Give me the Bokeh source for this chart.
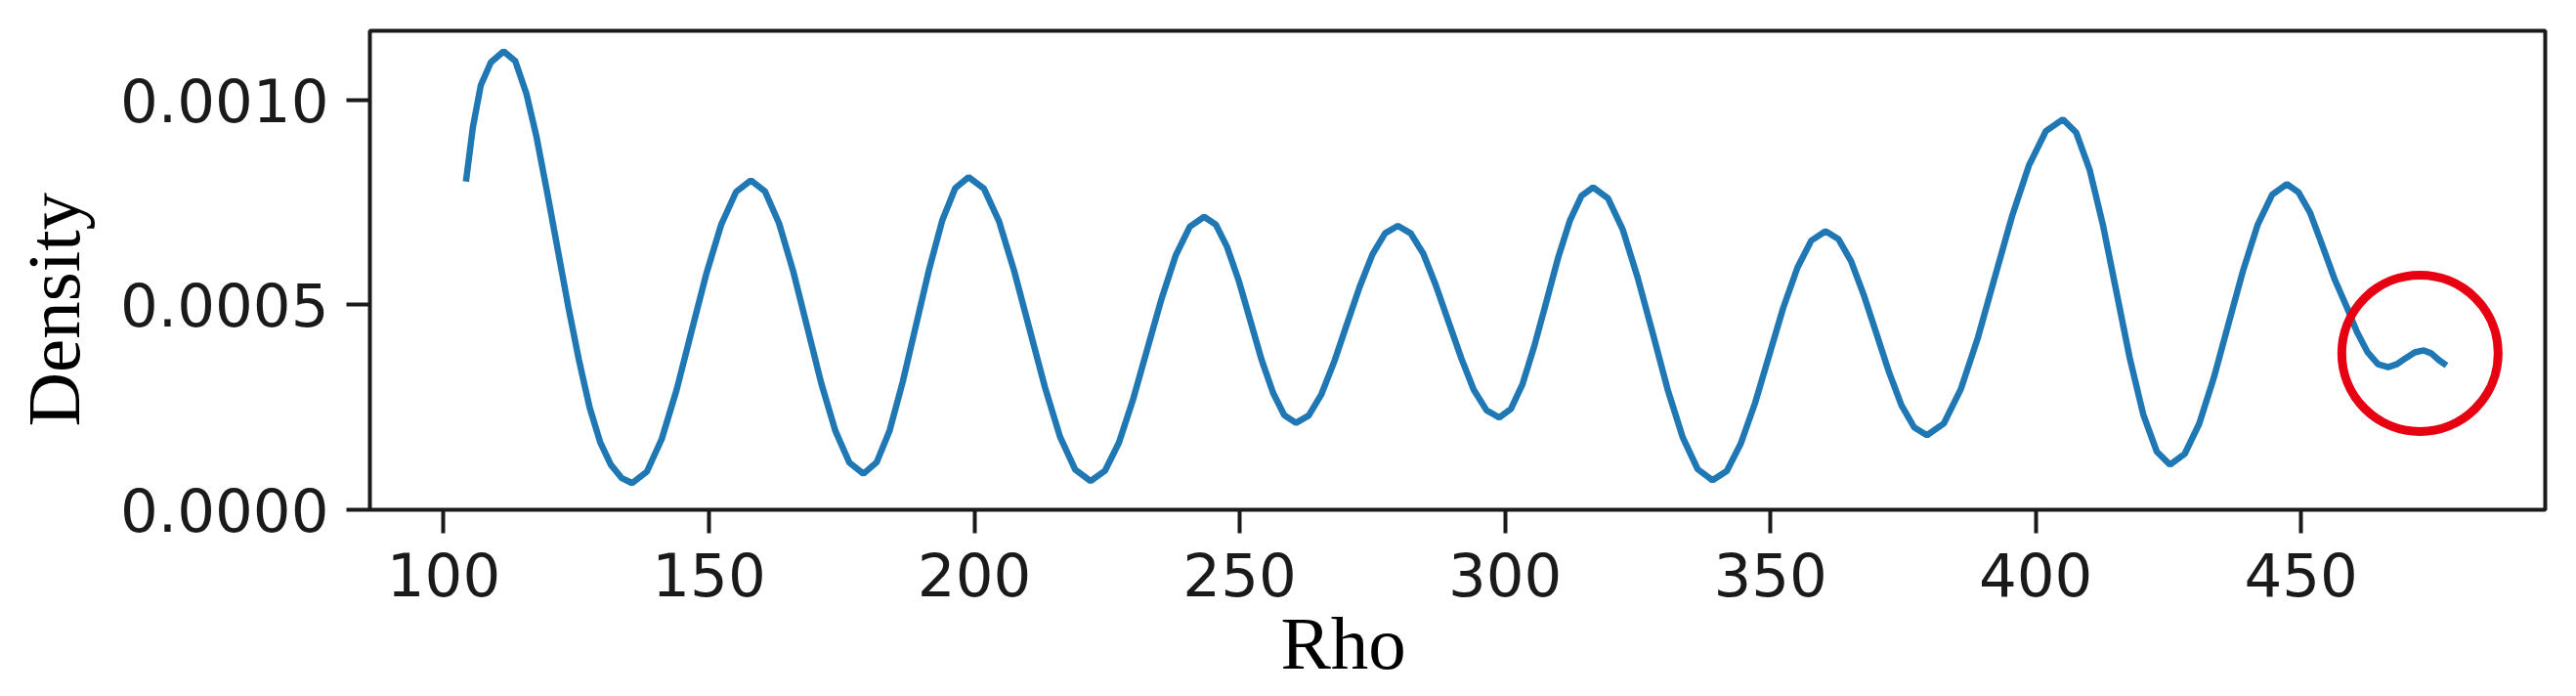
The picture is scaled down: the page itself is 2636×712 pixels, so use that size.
from bokeh.plotting import figure
from bokeh.layouts import row
from bokeh.models import Range1d, FixedTicker, NumeralTickFormatter, Title
from bokeh.embed import file_html
from bokeh.resources import INLINE

# ---- data (Rho vs KDE density, density in units of 1e-4) ----
rho = [
    104.2, 105.5, 107.0, 108.9, 111.3,
    113.5, 115.6, 117.5, 119.5, 121.5, 123.5, 125.5, 127.5, 129.5, 131.5, 133.5, 135.5,
    138.3, 141.1, 143.9, 146.7, 149.5, 152.3, 155.1, 157.9,
    160.55, 163.2, 165.85, 168.5, 171.15, 173.8, 176.45, 179.1,
    181.6, 184.05, 186.5, 189.0, 191.5, 193.95, 196.4, 198.9,
    201.8, 204.65, 207.5, 210.4, 213.3, 216.15, 219.0, 221.9,
    224.6, 227.25, 229.9, 232.6, 235.3, 237.95, 240.6, 243.3,
    245.5, 247.6, 249.8, 251.95, 254.1, 256.3, 258.4, 260.6,
    263.0, 265.4, 267.8, 270.2, 272.6, 275.0, 277.4, 279.8,
    282.2, 284.6, 286.95, 289.35, 291.75, 294.1, 296.5, 298.9,
    301.1, 303.3, 305.5, 307.75, 309.95, 312.2, 314.4, 316.6,
    319.4, 322.2, 325.0, 327.85, 330.65, 333.5, 336.3, 339.1,
    341.8, 344.4, 347.1, 349.75, 352.4, 355.1, 357.7, 360.4,
    362.8, 365.2, 367.55, 369.95, 372.35, 374.7, 377.1, 379.5,
    382.7, 385.9, 389.1, 392.3, 395.5, 398.7, 401.9, 405.1,
    407.6, 410.15, 412.7, 415.2, 417.7, 420.25, 422.8, 425.3,
    428.05, 430.8, 433.55, 436.3, 439.05, 441.8, 444.55, 447.3,
    449.5, 451.7, 454.0, 456.4, 458.6, 460.5, 462.5, 464.5, 466.4,
    468.0, 469.7, 471.4, 473.1, 474.5, 476.0, 477.4,
]
density_e4 = [
    8.01, 9.33, 10.36, 10.92, 11.19,
    10.95, 10.15, 9.10, 7.75, 6.35, 4.95, 3.65, 2.50, 1.65, 1.10, 0.78, 0.65,
    0.93, 1.73, 2.93, 4.35, 5.76, 6.96, 7.76, 8.04,
    7.77, 6.99, 5.83, 4.46, 3.09, 1.93, 1.15, 0.88,
    1.16, 1.94, 3.12, 4.50, 5.88, 7.06, 7.85, 8.12,
    7.84, 7.04, 5.83, 4.41, 2.99, 1.78, 0.98, 0.70,
    0.95, 1.64, 2.69, 3.93, 5.16, 6.21, 6.91, 7.15,
    6.96, 6.42, 5.60, 4.64, 3.67, 2.85, 2.31, 2.12,
    2.30, 2.82, 3.61, 4.53, 5.44, 6.23, 6.75, 6.93,
    6.75, 6.25, 5.48, 4.59, 3.70, 2.93, 2.43, 2.25,
    2.46, 3.07, 3.99, 5.06, 6.13, 7.05, 7.66, 7.87,
    7.60, 6.83, 5.66, 4.30, 2.93, 1.76, 0.99, 0.72,
    0.95, 1.61, 2.60, 3.76, 4.92, 5.91, 6.57, 6.80,
    6.61, 6.07, 5.26, 4.31, 3.36, 2.55, 2.01, 1.82,
    2.11, 2.95, 4.20, 5.68, 7.15, 8.40, 9.24, 9.53,
    9.21, 8.30, 6.93, 5.32, 3.71, 2.33, 1.42, 1.10,
    1.36, 2.10, 3.22, 4.53, 5.83, 6.95, 7.69, 7.95,
    7.75, 7.25, 6.45, 5.60, 4.95, 4.35, 3.85, 3.55, 3.48,
    3.55, 3.70, 3.84, 3.89, 3.82, 3.65, 3.52,
]
density = [v * 1e-4 for v in density_e4]

x_ticks = [100, 150, 200, 250, 300, 350, 400, 450]
y_ticks = [0.0, 0.0005, 0.0010]
x_title = "Rho"
y_title = "Density"

# highlighted region (red ring) centre
ring_rho = [472.4]
ring_density = [0.000382]

INK = "#1a1a1a"
H = 706
LEFT_W = 120
TOP = 31
BOTTOM = 185

# ---- narrow strip carrying the vertical axis title ----
strip = figure(
    width=LEFT_W, height=H, output_backend="svg", toolbar_location=None,
    x_range=Range1d(0, 1), y_range=Range1d(0, 1),
    x_axis_location=None, y_axis_location=None,
    min_border=0, min_border_left=97, min_border_right=0,
    min_border_top=TOP, min_border_bottom=BOTTOM,
)
strip.frame_align = False
strip.outline_line_color = None
strip.background_fill_color = "white"
strip.border_fill_color = "white"
strip.xgrid.visible = False
strip.ygrid.visible = False
strip.add_layout(Title(text=y_title, align="left", offset=85, standoff=0,
                       text_font="Liberation Serif", text_font_size="77px",
                       text_font_style="normal", text_color="black"), "left")

# ---- main chart ----
p = figure(
    width=2630 - LEFT_W, height=H,
    output_backend="svg", toolbar_location=None,
    x_range=Range1d(86.1, 496.0), y_range=Range1d(0.0, 0.001169),
    min_border_left=378 - LEFT_W, min_border_right=26,
    min_border_top=TOP, min_border_bottom=BOTTOM,
)
p.frame_align = False
p.background_fill_color = "white"
p.border_fill_color = "white"
p.xgrid.visible = False
p.ygrid.visible = False
p.outline_line_color = INK
p.outline_line_width = 4
p.outline_line_alpha = 1.0

for ax in (p.xaxis[0], p.yaxis[0]):
    ax.axis_line_color = None
    ax.major_tick_in = 0
    ax.major_tick_out = 24
    ax.major_tick_line_width = 4
    ax.major_tick_line_color = INK
    ax.minor_tick_line_color = None
    ax.major_label_text_font = "DejaVu Sans"
    ax.major_label_text_font_size = "61px"
    ax.major_label_text_color = INK

p.xaxis.ticker = FixedTicker(ticks=x_ticks)
p.yaxis.ticker = FixedTicker(ticks=y_ticks)
p.yaxis.formatter = NumeralTickFormatter(format="0.0000")
p.yaxis.major_label_standoff = 18
p.xaxis.major_label_standoff = 19

p.line(rho, density, line_color="#1f77b4", line_width=6.5)

p.scatter(ring_rho, ring_density, marker="circle", size=160,
          fill_color=None, line_color="#e60012", line_width=9)

p.add_layout(Title(text=x_title, align="left", offset=932, standoff=0,
                   text_font="Liberation Serif", text_font_size="77px",
                   text_font_style="normal", text_color="black"), "below")

layout = row(strip, p, spacing=0)
open("out.html", "w").write(file_html(layout, INLINE))
